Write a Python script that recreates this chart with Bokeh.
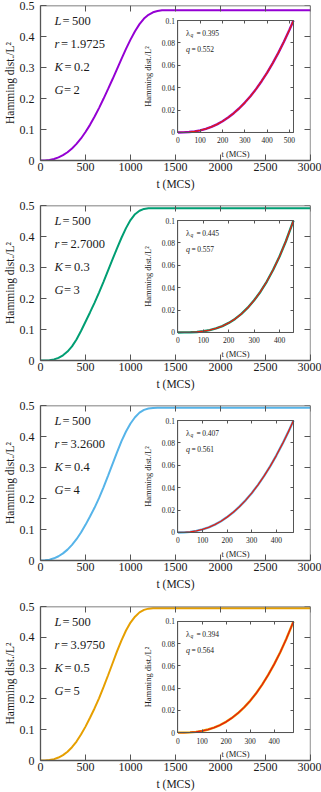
from bokeh.plotting import figure
from bokeh.models import (Range1d, LinearAxis, FixedTicker, PrintfTickFormatter,
                          BoxAnnotation, CustomJSTickFormatter)
from bokeh.layouts import column
from bokeh.core.properties import value
from bokeh.embed import file_html
from bokeh.resources import INLINE

# ---------------- data ----------------
t_main_1 = [0, 50, 100, 150, 200, 250, 300, 350, 400, 450, 500, 550, 600, 650, 700, 750,
            800, 850, 900, 950, 1000, 1050, 1100, 1150, 1200, 1250, 1300, 1350, 1400,
            1500, 2000, 2500, 3000]
h_main_1 = [0, 0.00035, 0.0019, 0.005, 0.01, 0.0172, 0.0267, 0.0387, 0.0535, 0.0711,
            0.0918, 0.115, 0.141, 0.169, 0.199, 0.23, 0.262, 0.295, 0.328, 0.36, 0.39,
            0.417, 0.44, 0.458, 0.47, 0.478, 0.482, 0.4845, 0.485, 0.485, 0.485, 0.485, 0.485]

t_main_2 = [0, 50, 100, 150, 200, 250, 300, 350, 400, 450, 500, 550, 600, 650, 700, 750,
            800, 850, 900, 950, 1000, 1050, 1100, 1150, 1200, 1250, 1500, 2000, 2500, 3000]
h_main_2 = [0, 0.00013, 0.0011, 0.0036, 0.0085, 0.0166, 0.0287, 0.0455, 0.0679, 0.095,
            0.125, 0.155, 0.186, 0.219, 0.254, 0.29, 0.326, 0.362, 0.396, 0.427, 0.453,
            0.472, 0.483, 0.489, 0.491, 0.4914, 0.4914, 0.4914, 0.4914, 0.4914]

t_main_3 = [0, 50, 100, 150, 200, 250, 300, 350, 400, 450, 500, 550, 600, 650, 700, 750,
            800, 850, 900, 950, 1000, 1050, 1100, 1150, 1200, 1250, 1300, 1500, 2000,
            2500, 3000]
h_main_3 = [0, 0.0005, 0.0027, 0.007, 0.0137, 0.023, 0.0351, 0.0503, 0.0687, 0.0903,
            0.115, 0.142, 0.17, 0.201, 0.236, 0.273, 0.311, 0.349, 0.385, 0.416, 0.442,
            0.462, 0.477, 0.486, 0.4905, 0.4922, 0.4925, 0.4925, 0.4925, 0.4925, 0.4925]

t_main_4 = [0, 50, 100, 150, 200, 250, 300, 350, 400, 450, 500, 550, 600, 650, 700, 750,
            800, 850, 900, 950, 1000, 1050, 1100, 1150, 1200, 1250, 1500, 2000, 2500, 3000]
h_main_4 = [0, 0.00024, 0.0015, 0.0045, 0.0097, 0.0176, 0.0286, 0.0432, 0.0616, 0.0842,
            0.11, 0.139, 0.169, 0.202, 0.238, 0.276, 0.315, 0.354, 0.39, 0.422, 0.448,
            0.467, 0.481, 0.489, 0.493, 0.494, 0.494, 0.494, 0.494, 0.494]

t_inset_1 = [0, 25, 50, 75, 100, 125, 150, 175, 200, 225, 250, 275, 300, 325, 350, 375,
             400, 425, 450, 475, 500, 518]
h_inset_1 = [0, 0.00007, 0.00035, 0.0009, 0.0019, 0.0032, 0.005, 0.0072, 0.01, 0.0133,
             0.0172, 0.0216, 0.0267, 0.0323, 0.0387, 0.0458, 0.0535, 0.062, 0.0711,
             0.0811, 0.0918, 0.1]
t_inset_2 = [0, 25, 50, 75, 100, 125, 150, 175, 200, 225, 250, 275, 300, 325, 350, 375,
             400, 425, 455]
h_inset_2 = [0, 0.00002, 0.00013, 0.00045, 0.0011, 0.0021, 0.0036, 0.0057, 0.0085,
             0.0121, 0.0166, 0.0221, 0.0287, 0.0364, 0.0455, 0.056, 0.0679, 0.0815, 0.1]
t_inset_3 = [0, 25, 50, 75, 100, 125, 150, 175, 200, 225, 250, 275, 300, 325, 350, 375,
             400, 425, 450, 470]
h_inset_3 = [0, 0.0001, 0.0005, 0.0014, 0.0027, 0.0046, 0.007, 0.01, 0.0137, 0.018,
             0.023, 0.0287, 0.0351, 0.0423, 0.0503, 0.0591, 0.0687, 0.0791, 0.0903, 0.1]
t_inset_4 = [0, 25, 50, 75, 100, 125, 150, 175, 200, 225, 250, 275, 300, 325, 350, 375,
             400, 425, 450, 480]
h_inset_4 = [0, 0.00004, 0.00024, 0.0007, 0.0015, 0.0028, 0.0045, 0.0068, 0.0097, 0.0133,
             0.0176, 0.0227, 0.0286, 0.0354, 0.0432, 0.0519, 0.0616, 0.0723, 0.0842, 0.1]

inset_tmax = [518, 455, 470, 480]

L_values = ["500", "500", "500", "500"]
r_values = ["1.9725", "2.7000", "3.2600", "3.9750"]
K_values = ["0.2", "0.3", "0.4", "0.5"]
G_values = ["2", "3", "4", "5"]
lambda_q_values = ["0.395", "0.445", "0.407", "0.394"]
q_values = ["0.552", "0.557", "0.561", "0.564"]

main_xticks = [0, 500, 1000, 1500, 2000, 2500, 3000]
main_yticks = [0, 0.1, 0.2, 0.3, 0.4, 0.5]
inset_yticks = [0, 0.02, 0.04, 0.06, 0.08, 0.1]
inset_xticks_1 = [0, 100, 200, 300, 400, 500]
inset_xticks_2 = [0, 100, 200, 300, 400]
inset_xticks_3 = [0, 100, 200, 300, 400]
inset_xticks_4 = [0, 100, 200, 300, 400]

# ---------------- style ----------------
FONT = "Liberation Serif"
FRAME = "#555555"
TEXT = "#1a1a1a"
COLORS = ["#9400d3", "#009e73", "#56b4e9", "#e69f00"]
FIT = "#e51e10"
# inset placement as fractions of the main frame
IN_L, IN_R, IN_B, IN_T = 0.509, 0.937, 0.181, 0.903

t_main = [t_main_1, t_main_2, t_main_3, t_main_4]
h_main = [h_main_1, h_main_2, h_main_3, h_main_4]
t_inset = [t_inset_1, t_inset_2, t_inset_3, t_inset_4]
h_inset = [h_inset_1, h_inset_2, h_inset_3, h_inset_4]
inset_xticks = [inset_xticks_1, inset_xticks_2, inset_xticks_3, inset_xticks_4]


def style_axis(ax, tick, fs, lfs, so, lso, lw=1.3):
    ax.major_tick_in = tick
    ax.major_tick_out = 0
    ax.minor_tick_in = 0
    ax.minor_tick_out = 0
    ax.axis_line_color = FRAME
    ax.axis_line_width = lw
    ax.major_tick_line_color = FRAME
    ax.major_tick_line_width = 1
    ax.major_label_text_font = FONT
    ax.major_label_text_font_size = f"{fs}px"
    ax.major_label_text_color = TEXT
    ax.major_label_standoff = so
    ax.axis_label_text_font = FONT
    ax.axis_label_text_font_size = f"{lfs}px"
    ax.axis_label_text_font_style = "normal"
    ax.axis_label_text_color = TEXT
    ax.axis_label_standoff = lso


def blank():
    return CustomJSTickFormatter(code="return ''")


def make_panel(k, height, top):
    p = figure(width=321, height=height, x_range=Range1d(0, 3000), y_range=Range1d(0, 0.5),
               x_axis_type=None, y_axis_type=None, output_backend="svg",
               toolbar_location=None, min_border_left=39, min_border_right=11,
               min_border_top=top, min_border_bottom=height - top - 155,
               outline_line_color=None, background_fill_color="white",
               border_fill_color="white")

    # main axes
    yl = LinearAxis(ticker=FixedTicker(ticks=main_yticks),
                    formatter=PrintfTickFormatter(format="%g"),
                    axis_label="Hamming dist./L²")
    style_axis(yl, 6, 12, 11.5, 6, 1)
    p.add_layout(yl, "left")
    xb = LinearAxis(ticker=FixedTicker(ticks=main_xticks),
                    formatter=PrintfTickFormatter(format="%g"),
                    axis_label="t (MCS)")
    style_axis(xb, 6, 12, 11.5, 2, 4)
    p.add_layout(xb, "below")
    xa = LinearAxis(ticker=FixedTicker(ticks=main_xticks), formatter=blank(),
                    fixed_location=0.5)
    style_axis(xa, 6, 12, 11.5, 0, 0)
    p.add_layout(xa, "above")
    yr = LinearAxis(ticker=FixedTicker(ticks=main_yticks), formatter=blank(),
                    fixed_location=3000)
    style_axis(yr, 6, 12, 11.5, 0, 0)
    p.add_layout(yr, "right")

    # main curve
    p.line(t_main[k], h_main[k], line_color=COLORS[k], line_width=2)

    # parameter texts
    ys = [0.449, 0.376, 0.301, 0.226]
    var_offsets = [8, 6.5, 10, 9.5]
    p.text(x=[155] * 4, y=ys, text=["L", "r", "K", "G"],
           text_font=value(FONT), text_font_size="12.5px", text_font_style="italic",
           text_baseline="middle", text_align="left", text_color=TEXT)
    p.text(x=[155] * 4, y=ys,
           text=["=\u2009" + L_values[k], "=\u2009" + r_values[k],
                 "=\u2009" + K_values[k], "=\u2009" + G_values[k]],
           x_offset=var_offsets,
           text_font=value(FONT), text_font_size="12.5px",
           text_baseline="middle", text_align="left", text_color=TEXT)

    # inset coordinate system
    xmax = inset_tmax[k]
    span_x = xmax / (IN_R - IN_L)
    x0 = -IN_L * span_x
    span_y = 0.1 / (IN_T - IN_B)
    y0 = -IN_B * span_y
    p.extra_x_ranges = {"ix": Range1d(x0, x0 + span_x)}
    p.extra_y_ranges = {"iy": Range1d(y0, y0 + span_y)}

    box = BoxAnnotation(left=0, right=xmax, bottom=0, top=0.1,
                        x_range_name="ix", y_range_name="iy",
                        fill_color="white", fill_alpha=1.0,
                        line_color=FRAME, line_width=1, level="underlay")
    p.add_layout(box)

    iyl = LinearAxis(x_range_name="ix", y_range_name="iy", fixed_location=0,
                     bounds=(0, 0.1), ticker=FixedTicker(ticks=inset_yticks),
                     formatter=PrintfTickFormatter(format="%g"),
                     axis_label="Hamming dist./L²")
    style_axis(iyl, 3, 7.5, 8.5, 3, 5, 1)
    p.add_layout(iyl, "left")
    ixb = LinearAxis(x_range_name="ix", y_range_name="iy", fixed_location=0,
                     bounds=(0, xmax), ticker=FixedTicker(ticks=inset_xticks[k]),
                     formatter=PrintfTickFormatter(format="%g"),
                     axis_label="t (MCS)")
    style_axis(ixb, 3, 7.5, 8.5, 5, 2, 1)
    p.add_layout(ixb, "below")
    ixa = LinearAxis(x_range_name="ix", y_range_name="iy", fixed_location=0.1,
                     bounds=(0, xmax), ticker=FixedTicker(ticks=inset_xticks[k]),
                     formatter=blank())
    style_axis(ixa, 3, 7.5, 8.5, 0, 0, 1)
    p.add_layout(ixa, "above")
    iyr = LinearAxis(x_range_name="ix", y_range_name="iy", fixed_location=xmax,
                     bounds=(0, 0.1), ticker=FixedTicker(ticks=inset_yticks),
                     formatter=blank())
    style_axis(iyr, 3, 7.5, 8.5, 0, 0, 1)
    p.add_layout(iyr, "right")

    p.line(t_inset[k], h_inset[k], x_range_name="ix", y_range_name="iy",
           line_color=COLORS[k], line_width=2.4)
    p.line(t_inset[k], h_inset[k], x_range_name="ix", y_range_name="iy",
           line_color=FIT, line_width=1.3)

    # inset annotation texts
    tx = 0.069 * xmax
    ya, yb = 0.0887, 0.0738
    common = dict(x_range_name="ix", y_range_name="iy", text_font=value(FONT),
                  text_baseline="middle", text_align="left", text_color=TEXT)
    p.text(x=[tx], y=[ya], text=["λ"], text_font_size="8px", **common)
    p.text(x=[tx], y=[ya], text=["q"], text_font_size="5.5px",
           text_font_style="italic", x_offset=4.6, y_offset=2.2, **common)
    p.text(x=[tx], y=[ya], text=["=\u2009" + lambda_q_values[k]], text_font_size="7.5px",
           x_offset=10.5, **common)
    p.text(x=[tx], y=[yb], text=["q"], text_font_size="8px",
           text_font_style="italic", **common)
    p.text(x=[tx], y=[yb], text=["=\u2009" + q_values[k]], text_font_size="7.5px",
           x_offset=5.5, **common)
    return p


figs = [make_panel(0, 200, 5), make_panel(1, 200, 5),
        make_panel(2, 200, 5), make_panel(3, 192, 6)]
layout = column(*figs, spacing=0,
                styles={"position": "absolute", "left": "0px", "top": "0px"})

open("out.html", "w").write(file_html(layout, INLINE))
